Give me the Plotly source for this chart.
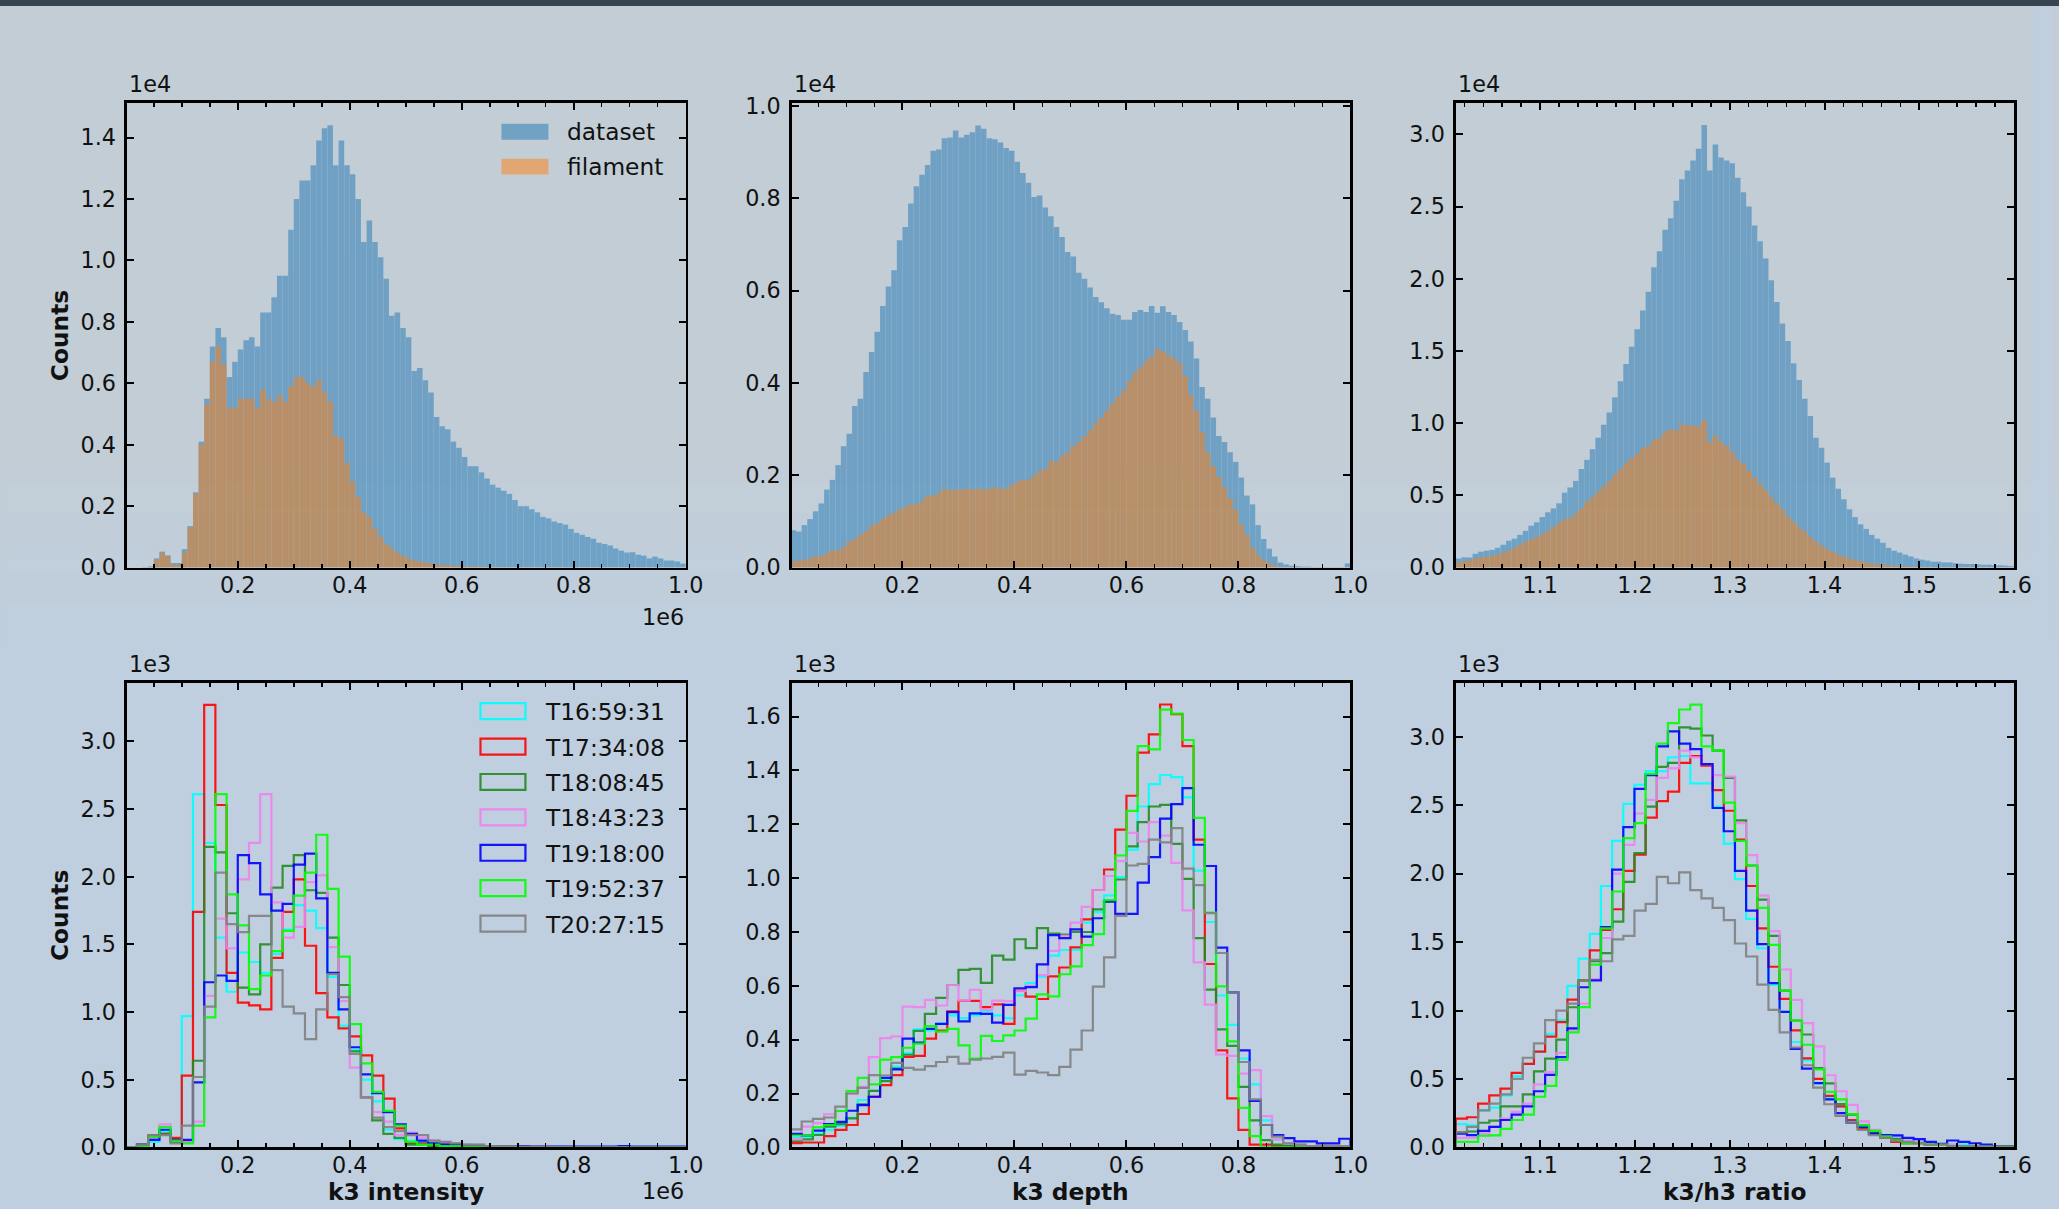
import numpy as np
import plotly.graph_objects as go

# page is 2059x1209; the figure sits inside the browser's 8px body margin (bottom margin removed)
PAGE_W, PAGE_H, OFF = 2059, 1209, 8
W, H = PAGE_W - 2 * OFF, PAGE_H - OFF

# ---------------- data (top row: 100-bin histograms, values in 1e4 counts) ----------------
int_dataset = [0, 0, 0, 0.002, 0.004, 0.03, 0.052, 0.04, 0.015, 0.015,
               0.06, 0.135, 0.245, 0.41, 0.55, 0.72, 0.78, 0.75, 0.62, 0.67,
               0.71, 0.74, 0.75, 0.72, 0.83, 0.83, 0.88, 0.95, 0.95, 1.10,
               1.20, 1.26, 1.26, 1.31, 1.39, 1.43, 1.44, 1.31, 1.39, 1.31,
               1.28, 1.20, 1.06, 1.13, 1.06, 1.01, 0.94, 0.82, 0.83, 0.78,
               0.75, 0.64, 0.65, 0.61, 0.57, 0.49, 0.46, 0.45, 0.41, 0.39,
               0.36, 0.33, 0.33, 0.31, 0.29, 0.27, 0.26, 0.25, 0.24, 0.22,
               0.20, 0.20, 0.19, 0.18, 0.165, 0.16, 0.15, 0.145, 0.14, 0.126,
               0.113, 0.107, 0.10, 0.094, 0.081, 0.077, 0.072, 0.062, 0.055, 0.049,
               0.05, 0.042, 0.039, 0.03, 0.036, 0.03, 0.023, 0.023, 0.02, 0.013]
int_filament = [0, 0, 0, 0, 0, 0.026, 0.049, 0.036, 0.01, 0.01,
                0.05, 0.13, 0.24, 0.40, 0.53, 0.67, 0.72, 0.66, 0.52, 0.52,
                0.55, 0.55, 0.55, 0.52, 0.58, 0.55, 0.54, 0.56, 0.54, 0.59,
                0.62, 0.62, 0.60, 0.59, 0.61, 0.57, 0.54, 0.43, 0.42, 0.34,
                0.28, 0.23, 0.18, 0.165, 0.126, 0.10, 0.077, 0.062, 0.049, 0.039,
                0.03, 0.023, 0.02, 0.017, 0.013, 0.01, 0.009, 0.008, 0.007, 0.006,
                0.005, 0.004, 0.004, 0.003, 0.003, 0.002, 0.002, 0.002, 0.001, 0.001,
                0.001, 0.001, 0.001, 0.001, 0.001, 0.001, 0.001, 0.001, 0.001, 0.001,
                0, 0, 0, 0, 0, 0, 0, 0, 0, 0,
                0, 0, 0, 0, 0, 0, 0, 0, 0, 0]
depth_dataset = [0.081, 0.078, 0.092, 0.105, 0.122, 0.139, 0.169, 0.19, 0.222, 0.263,
                 0.29, 0.35, 0.366, 0.424, 0.467, 0.511, 0.567, 0.609, 0.644, 0.709,
                 0.738, 0.789, 0.826, 0.851, 0.872, 0.903, 0.906, 0.93, 0.932, 0.947,
                 0.932, 0.938, 0.943, 0.958, 0.951, 0.93, 0.928, 0.921, 0.909, 0.903,
                 0.879, 0.855, 0.834, 0.803, 0.806, 0.78, 0.761, 0.738, 0.716, 0.684,
                 0.674, 0.639, 0.626, 0.607, 0.586, 0.575, 0.562, 0.55, 0.547, 0.537,
                 0.537, 0.554, 0.558, 0.554, 0.567, 0.552, 0.566, 0.554, 0.547, 0.532,
                 0.515, 0.49, 0.453, 0.391, 0.366, 0.325, 0.285, 0.272, 0.25, 0.229,
                 0.195, 0.156, 0.137, 0.092, 0.062, 0.041, 0.024, 0.011, 0.007, 0.004,
                 0.003, 0.002, 0.002, 0.001, 0.001, 0.001, 0.001, 0.001, 0.001, 0.009]
depth_filament = [0.013, 0.015, 0.017, 0.02, 0.024, 0.026, 0.031, 0.038, 0.037, 0.045,
                  0.056, 0.062, 0.071, 0.079, 0.09, 0.097, 0.105, 0.114, 0.118, 0.126,
                  0.131, 0.137, 0.137, 0.144, 0.156, 0.156, 0.161, 0.171, 0.168, 0.169,
                  0.169, 0.171, 0.169, 0.171, 0.169, 0.171, 0.174, 0.171, 0.171, 0.178,
                  0.186, 0.19, 0.19, 0.199, 0.209, 0.214, 0.231, 0.229, 0.242, 0.25,
                  0.263, 0.272, 0.285, 0.297, 0.313, 0.325, 0.34, 0.356, 0.37, 0.383,
                  0.404, 0.421, 0.434, 0.447, 0.457, 0.473, 0.468, 0.46, 0.453, 0.443,
                  0.415, 0.374, 0.34, 0.293, 0.25, 0.22, 0.197, 0.174, 0.15, 0.126,
                  0.094, 0.071, 0.045, 0.028, 0.015, 0.009, 0.005, 0.002, 0.001, 0.001,
                  0, 0, 0, 0, 0, 0, 0, 0, 0, 0]
ratio_dataset = [0.063, 0.071, 0.07, 0.096, 0.11, 0.117, 0.123, 0.137, 0.158, 0.186,
                 0.2, 0.227, 0.254, 0.29, 0.314, 0.35, 0.383, 0.41, 0.445, 0.519,
                 0.555, 0.60, 0.683, 0.746, 0.82, 0.90, 0.99, 1.074, 1.18, 1.29,
                 1.41, 1.53, 1.65, 1.78, 1.91, 2.08, 2.19, 2.34, 2.42, 2.54,
                 2.69, 2.75, 2.82, 2.90, 3.066, 2.75, 2.93, 2.84, 2.82, 2.80,
                 2.70, 2.60, 2.50, 2.37, 2.26, 2.14, 1.99, 1.84, 1.69, 1.57,
                 1.415, 1.30, 1.17, 1.05, 0.90, 0.83, 0.727, 0.623, 0.546, 0.473,
                 0.404, 0.35, 0.30, 0.268, 0.227, 0.20, 0.172, 0.137, 0.117, 0.104,
                 0.09, 0.077, 0.063, 0.055, 0.049, 0.041, 0.041, 0.036, 0.036, 0.03,
                 0.027, 0.025, 0.025, 0.022, 0.02, 0.02, 0.016, 0.016, 0.014, 0.01]
ratio_filament = [0.036, 0.044, 0.049, 0.063, 0.071, 0.077, 0.082, 0.09, 0.104, 0.117,
                  0.137, 0.158, 0.18, 0.194, 0.213, 0.232, 0.254, 0.281, 0.309, 0.336,
                  0.342, 0.377, 0.41, 0.454, 0.49, 0.527, 0.563, 0.60, 0.645, 0.683,
                  0.724, 0.76, 0.787, 0.828, 0.842, 0.883, 0.90, 0.945, 0.956, 0.95,
                  0.99, 0.984, 0.984, 0.978, 1.02, 0.87, 0.915, 0.87, 0.842, 0.80,
                  0.746, 0.72, 0.67, 0.623, 0.582, 0.536, 0.486, 0.445, 0.404, 0.355,
                  0.317, 0.281, 0.249, 0.213, 0.18, 0.153, 0.131, 0.109, 0.09, 0.077,
                  0.063, 0.055, 0.044, 0.036, 0.03, 0.025, 0.02, 0.017, 0.014, 0.012,
                  0.01, 0.008, 0.007, 0.006, 0.005, 0.004, 0.004, 0.003, 0.003, 0.002,
                  0.002, 0.002, 0.001, 0.001, 0.001, 0.001, 0.001, 0.001, 0.001, 0.001]

# ---------------- data (bottom row: 50-bin step histograms per time, values in 1e3 counts) ----------------
times = ["T16:59:31", "T17:34:08", "T18:08:45", "T18:43:23", "T19:18:00", "T19:52:37", "T20:27:15"]
time_colors = ["#00ffff", "#ff0000", "#228b22", "#ee82ee", "#0000ff", "#00ff00", "#808080"]

int_T1 = [0.0, 0.02, 0.04, 0.12, 0.04, 0.97, 2.61, 2.25, 1.55, 1.15, 1.44, 1.37, 1.29, 1.43, 1.61, 1.79, 1.75, 1.62, 1.26, 0.90, 0.72, 0.50, 0.34, 0.13, 0.06, 0.05, 0.04, 0.03, 0.02, 0.02, 0.02, 0.01, 0.01, 0.01, 0.01, 0.005, 0.005, 0.005, 0.005, 0.005, 0.003, 0.003, 0.003, 0.003, 0.003, 0.002, 0.002, 0.002, 0.002, 0.002]
int_T2 = [0.0, 0.01, 0.07, 0.10, 0.07, 0.53, 1.74, 3.27, 2.53, 1.29, 1.07, 1.05, 1.02, 1.40, 1.74, 1.98, 1.49, 1.14, 0.96, 0.88, 0.82, 0.68, 0.53, 0.36, 0.14, 0.03, 0.03, 0.02, 0.02, 0.01, 0.01, 0.01, 0.005, 0.005, 0.005, 0.003, 0.003, 0.003, 0.002, 0.002, 0.002, 0.002, 0.001, 0.001, 0.001, 0.001, 0.001, 0.001, 0.001, 0.001]
int_T3 = [0.0, 0.02, 0.09, 0.10, 0.04, 0.04, 0.64, 2.22, 2.18, 1.73, 1.18, 1.13, 1.50, 1.92, 2.08, 2.16, 1.90, 1.88, 1.55, 1.20, 0.71, 0.37, 0.20, 0.10, 0.07, 0.02, 0.02, 0.01, 0.01, 0.01, 0.005, 0.005, 0.005, 0.003, 0.003, 0.002, 0.002, 0.002, 0.001, 0.001, 0.001, 0.001, 0.001, 0.001, 0.001, 0.001, 0.001, 0.001, 0.001, 0.001]
int_T4 = [0.0, 0.02, 0.07, 0.17, 0.05, 0.04, 0.19, 1.12, 1.69, 1.47, 1.98, 2.25, 2.61, 1.81, 1.55, 1.63, 1.96, 2.01, 1.48, 1.08, 0.59, 0.37, 0.26, 0.19, 0.09, 0.11, 0.07, 0.05, 0.04, 0.03, 0.02, 0.02, 0.01, 0.01, 0.01, 0.005, 0.005, 0.005, 0.003, 0.003, 0.003, 0.002, 0.002, 0.002, 0.002, 0.001, 0.001, 0.001, 0.001, 0.001]
int_T5 = [0.0, 0.02, 0.055, 0.13, 0.055, 0.055, 0.48, 1.22, 1.27, 1.23, 2.16, 2.10, 1.87, 1.75, 1.80, 2.09, 2.17, 1.84, 1.29, 1.02, 0.74, 0.54, 0.40, 0.26, 0.17, 0.10, 0.05, 0.03, 0.02, 0.02, 0.01, 0.01, 0.01, 0.01, 0.01, 0.01, 0.005, 0.005, 0.005, 0.005, 0.005, 0.005, 0.005, 0.005, 0.01, 0.005, 0.005, 0.005, 0.005, 0.005]
int_T6 = [0.0, 0.01, 0.08, 0.15, 0.05, 0.03, 0.16, 0.96, 2.61, 1.87, 1.64, 1.17, 1.27, 1.45, 1.60, 1.86, 2.03, 2.31, 1.91, 1.41, 0.91, 0.62, 0.41, 0.27, 0.16, 0.04, 0.02, 0.02, 0.01, 0.01, 0.005, 0.005, 0.005, 0.003, 0.003, 0.002, 0.002, 0.002, 0.001, 0.001, 0.001, 0.001, 0.001, 0.001, 0.001, 0.001, 0.001, 0.001, 0.001, 0.001]
int_T7 = [0.0, 0.02, 0.09, 0.09, 0.03, 0.16, 0.52, 1.04, 2.03, 1.65, 1.59, 1.71, 1.71, 1.31, 1.04, 0.99, 0.80, 1.02, 1.28, 1.11, 0.69, 0.37, 0.22, 0.15, 0.12, 0.09, 0.09, 0.05, 0.04, 0.03, 0.02, 0.02, 0.01, 0.01, 0.01, 0.005, 0.005, 0.005, 0.003, 0.003, 0.003, 0.002, 0.002, 0.002, 0.001, 0.001, 0.001, 0.001, 0.001, 0.001]

depth_T1 = [0.034, 0.04, 0.05, 0.065, 0.08, 0.11, 0.176, 0.21, 0.255, 0.30, 0.35, 0.438, 0.434, 0.46, 0.49, 0.48, 0.49, 0.505, 0.49, 0.48, 0.565, 0.61, 0.634, 0.712, 0.733, 0.733, 0.835, 0.874, 0.936, 1.004, 1.106, 1.266, 1.349, 1.383, 1.375, 1.30, 1.028, 0.837, 0.564, 0.455, 0.33, 0.234, 0.10, 0.03, 0.01, 0.01, 0.005, 0.005, 0.005, 0.005]
depth_T2 = [0.016, 0.018, 0.018, 0.042, 0.065, 0.083, 0.124, 0.188, 0.231, 0.268, 0.336, 0.34, 0.404, 0.434, 0.505, 0.544, 0.544, 0.521, 0.531, 0.459, 0.582, 0.56, 0.551, 0.635, 0.668, 0.743, 0.847, 0.956, 1.032, 1.18, 1.306, 1.466, 1.534, 1.645, 1.609, 1.49, 1.143, 0.681, 0.36, 0.182, 0.065, 0.01, 0.01, 0.005, 0.005, 0.0, 0.0, 0.0, 0.0, 0.0]
depth_T3 = [0.024, 0.03, 0.046, 0.077, 0.086, 0.108, 0.16, 0.21, 0.246, 0.293, 0.344, 0.433, 0.496, 0.555, 0.603, 0.659, 0.663, 0.611, 0.712, 0.697, 0.773, 0.74, 0.814, 0.794, 0.79, 0.80, 0.80, 0.884, 0.913, 0.995, 1.118, 1.208, 1.266, 1.272, 1.127, 0.997, 0.777, 0.586, 0.438, 0.377, 0.225, 0.10, 0.027, 0.01, 0.005, 0.005, 0.0, 0.0, 0.0, 0.0]
depth_T4 = [0.03, 0.077, 0.09, 0.123, 0.135, 0.20, 0.225, 0.335, 0.406, 0.412, 0.523, 0.521, 0.548, 0.527, 0.603, 0.545, 0.585, 0.511, 0.545, 0.543, 0.58, 0.60, 0.64, 0.73, 0.786, 0.835, 0.893, 0.956, 1.008, 1.063, 1.168, 1.136, 1.208, 1.158, 1.057, 0.88, 0.687, 0.53, 0.345, 0.34, 0.274, 0.287, 0.116, 0.03, 0.015, 0.01, 0.005, 0.005, 0.005, 0.005]
depth_T5 = [0.05, 0.044, 0.062, 0.086, 0.095, 0.136, 0.157, 0.188, 0.258, 0.29, 0.404, 0.389, 0.44, 0.459, 0.502, 0.468, 0.498, 0.496, 0.463, 0.529, 0.591, 0.595, 0.68, 0.788, 0.777, 0.81, 0.783, 0.851, 0.914, 0.867, 0.867, 0.983, 1.078, 1.221, 1.275, 1.334, 1.124, 1.045, 0.742, 0.576, 0.36, 0.173, 0.083, 0.046, 0.034, 0.022, 0.022, 0.015, 0.015, 0.032]
depth_T6 = [0.044, 0.044, 0.074, 0.083, 0.135, 0.209, 0.258, 0.234, 0.326, 0.335, 0.37, 0.385, 0.45, 0.43, 0.44, 0.379, 0.33, 0.414, 0.395, 0.416, 0.434, 0.478, 0.568, 0.561, 0.643, 0.672, 0.751, 0.792, 0.918, 1.084, 1.25, 1.49, 1.478, 1.626, 1.611, 1.513, 1.224, 0.872, 0.598, 0.394, 0.147, 0.042, 0.0, 0.0, 0.0, 0.0, 0.0, 0.0, 0.0, 0.0]
depth_T7 = [0.067, 0.096, 0.106, 0.111, 0.151, 0.20, 0.221, 0.268, 0.267, 0.314, 0.295, 0.289, 0.302, 0.317, 0.336, 0.311, 0.326, 0.33, 0.336, 0.352, 0.27, 0.284, 0.278, 0.268, 0.299, 0.363, 0.434, 0.597, 0.706, 0.86, 1.047, 1.053, 1.143, 1.133, 1.186, 1.035, 0.974, 0.87, 0.722, 0.576, 0.317, 0.178, 0.083, 0.04, 0.015, 0.01, 0.005, 0.005, 0.005, 0.005]

ratio_T1 = [0.17, 0.16, 0.27, 0.29, 0.38, 0.52, 0.61, 0.70, 0.83, 0.93, 1.18, 1.38, 1.56, 1.91, 2.24, 2.51, 2.65, 2.75, 2.75, 2.85, 2.86, 2.66, 2.66, 2.49, 2.22, 1.96, 1.67, 1.455, 1.19, 0.99, 0.77, 0.636, 0.47, 0.36, 0.30, 0.19, 0.14, 0.10, 0.08, 0.07, 0.05, 0.04, 0.03, 0.02, 0.02, 0.02, 0.01, 0.01, 0.01, 0.01]
ratio_T2 = [0.21, 0.22, 0.32, 0.38, 0.43, 0.545, 0.61, 0.70, 0.81, 0.915, 1.08, 1.22, 1.44, 1.59, 1.74, 2.02, 2.14, 2.41, 2.53, 2.60, 2.81, 2.86, 2.79, 2.61, 2.46, 2.25, 1.91, 1.60, 1.32, 1.085, 0.855, 0.65, 0.50, 0.377, 0.30, 0.20, 0.135, 0.10, 0.07, 0.04, 0.03, 0.03, 0.02, 0.02, 0.01, 0.01, 0.01, 0.005, 0.005, 0.005]
ratio_T3 = [0.11, 0.116, 0.18, 0.195, 0.30, 0.30, 0.387, 0.556, 0.649, 0.787, 1.024, 1.22, 1.36, 1.42, 1.65, 1.94, 2.15, 2.49, 2.78, 2.81, 3.07, 3.06, 3.01, 2.90, 2.70, 2.39, 2.06, 1.81, 1.545, 1.145, 0.927, 0.825, 0.58, 0.467, 0.317, 0.24, 0.16, 0.11, 0.09, 0.06, 0.03, 0.03, 0.02, 0.02, 0.01, 0.01, 0.01, 0.005, 0.005, 0.005]
ratio_T4 = [0.07, 0.07, 0.10, 0.15, 0.21, 0.26, 0.32, 0.46, 0.55, 0.69, 0.86, 1.05, 1.23, 1.53, 2.00, 2.21, 2.44, 2.54, 2.70, 2.77, 2.90, 2.85, 2.80, 2.72, 2.71, 2.37, 2.135, 1.84, 1.58, 1.30, 1.078, 0.908, 0.738, 0.527, 0.41, 0.31, 0.19, 0.128, 0.09, 0.08, 0.05, 0.04, 0.03, 0.02, 0.02, 0.01, 0.01, 0.01, 0.005, 0.005]
ratio_T5 = [0.10, 0.09, 0.12, 0.15, 0.20, 0.24, 0.30, 0.41, 0.53, 0.66, 0.87, 1.17, 1.22, 1.61, 2.03, 2.34, 2.62, 2.72, 2.93, 3.04, 2.95, 2.91, 2.80, 2.48, 2.31, 2.02, 1.73, 1.485, 1.20, 0.99, 0.72, 0.576, 0.47, 0.35, 0.25, 0.18, 0.15, 0.10, 0.09, 0.087, 0.07, 0.06, 0.04, 0.025, 0.05, 0.04, 0.03, 0.02, 0.01, 0.01]
ratio_T6 = [0.04, 0.04, 0.085, 0.087, 0.135, 0.20, 0.24, 0.37, 0.45, 0.64, 0.84, 1.025, 1.335, 1.60, 1.87, 2.26, 2.37, 2.73, 2.95, 3.10, 3.20, 3.236, 2.93, 2.90, 2.52, 2.24, 2.06, 1.75, 1.48, 1.145, 0.927, 0.75, 0.57, 0.406, 0.35, 0.243, 0.16, 0.12, 0.08, 0.05, 0.03, 0.03, 0.02, 0.02, 0.01, 0.01, 0.005, 0.005, 0.005, 0.005]
ratio_T7 = [0.11, 0.15, 0.27, 0.32, 0.387, 0.50, 0.655, 0.76, 0.93, 1.00, 1.05, 1.22, 1.37, 1.36, 1.52, 1.545, 1.73, 1.78, 1.977, 1.93, 2.01, 1.88, 1.82, 1.75, 1.66, 1.49, 1.395, 1.19, 1.005, 0.84, 0.73, 0.60, 0.436, 0.315, 0.23, 0.18, 0.127, 0.09, 0.07, 0.05, 0.04, 0.03, 0.02, 0.02, 0.01, 0.01, 0.01, 0.005, 0.005, 0.005]

# x extents of the histogram bins
int_lim = (0.0, 1.0)
depth_lim = (0.0, 1.0)
ratio_lim = (1.011, 1.600)

# ---------------- layout helpers ----------------
# positions below are given in screenshot pixels; they are converted to page pixels
# with the capture's measured scale/offset and then to paper fractions
FONT = "DejaVu Sans"
SX, BX, SY, BY = 0.9924, -2.0, 0.9836, 5.6

def gx(o):
    return (o - BX) / SX

def gy(o):
    return (o - BY) / SY

def px(o):
    return (gx(o) - OFF) / W

def py(o):
    return 1 - (gy(o) - OFF) / H

xdom = [(px(125), px(684.5)), (px(790.5), px(1350)), (px(1455.5), px(2014.5))]
ydom_top = (py(564.6), py(98.5))
ydom_bot = (py(1146), py(680))

fig = go.Figure()

def bars(name, vals, lim, color, ax):
    n = len(vals)
    edges = np.linspace(lim[0], lim[1], n + 1)
    centers = 0.5 * (edges[:-1] + edges[1:])
    fig.add_trace(go.Bar(x=centers, y=vals, width=edges[1] - edges[0], name=name,
                         marker=dict(color=color, line=dict(width=0)), opacity=0.5,
                         xaxis="x" + ax, yaxis="y" + ax, showlegend=False))

def steps(name, vals, lim, color, ax):
    n = len(vals)
    edges = np.linspace(lim[0], lim[1], n + 1)
    x = np.concatenate([[edges[0]], edges])
    y = np.concatenate([[0.0], np.asarray(vals, dtype=float), [0.0]])
    fig.add_trace(go.Scatter(x=x, y=y, mode="lines", line=dict(color=color, width=2.2, shape="hv"),
                             opacity=0.9, name=name, xaxis="x" + ax, yaxis="y" + ax, showlegend=False))

C0, C1 = "#1f77b4", "#ff7f0e"
bars("dataset", int_dataset, int_lim, C0, "")
bars("filament", int_filament, int_lim, C1, "")
bars("dataset", depth_dataset, depth_lim, C0, "2")
bars("filament", depth_filament, depth_lim, C1, "2")
bars("dataset", ratio_dataset, ratio_lim, C0, "3")
bars("filament", ratio_filament, ratio_lim, C1, "3")

int_series = [int_T1, int_T2, int_T3, int_T4, int_T5, int_T6, int_T7]
depth_series = [depth_T1, depth_T2, depth_T3, depth_T4, depth_T5, depth_T6, depth_T7]
ratio_series = [ratio_T1, ratio_T2, ratio_T3, ratio_T4, ratio_T5, ratio_T6, ratio_T7]
for t, c, a, b, r in zip(times, time_colors, int_series, depth_series, ratio_series):
    steps(t, a, int_lim, c, "4")
    steps(t, b, depth_lim, c, "5")
    steps(t, r, ratio_lim, c, "6")

FS_TICK, FS_TEXT = 22.3, 23.3
tickfont = dict(family=FONT, size=FS_TICK, color="#111111")

def xaxis(dom, anchor, rng, majors, minor_step):
    majors = np.asarray(majors)
    start = np.ceil(rng[0] / minor_step - 1e-9) * minor_step
    mins = np.arange(start, rng[1] + 1e-9, minor_step)
    mins = [m for m in mins if np.min(np.abs(majors - m)) > 1e-6]
    return dict(domain=dom, anchor=anchor, range=list(rng), tickmode="array",
                tickvals=list(majors), ticktext=["%.1f" % v for v in majors],
                ticks="inside", ticklen=7, tickwidth=2, tickcolor="black",
                minor=dict(tickmode="array", tickvals=mins, ticks="inside", ticklen=4,
                           tickwidth=1.5, tickcolor="black", showgrid=False),
                showline=True, linecolor="black", linewidth=2.5, mirror="allticks",
                showgrid=False, zeroline=False, tickfont=tickfont, ticklabelstandoff=-4)

def yaxis(dom, anchor, rng, majors):
    return dict(domain=dom, anchor=anchor, range=list(rng), tickmode="array",
                tickvals=list(majors), ticktext=["%.1f" % v for v in majors],
                ticks="inside", ticklen=7, tickwidth=2, tickcolor="black",
                showline=True, linecolor="black", linewidth=2.5, mirror="allticks",
                showgrid=False, zeroline=False, tickfont=tickfont, ticklabelstandoff=4)

unit_ticks = [0.2, 0.4, 0.6, 0.8, 1.0]
ratio_ticks = [1.1, 1.2, 1.3, 1.4, 1.5, 1.6]

fig.update_layout(
    xaxis=xaxis(xdom[0], "y", (0.002, 1.0), unit_ticks, 0.05),
    yaxis=yaxis(ydom_top, "x", (0, 1.513), np.arange(0, 1.41, 0.2)),
    xaxis2=xaxis(xdom[1], "y2", (0.002, 1.0), unit_ticks, 0.05),
    yaxis2=yaxis(ydom_top, "x2", (0, 1.007), np.arange(0, 1.01, 0.2)),
    xaxis3=xaxis(xdom[2], "y3", ratio_lim, ratio_ticks, 0.02),
    yaxis3=yaxis(ydom_top, "x3", (0, 3.219), np.arange(0, 3.01, 0.5)),
    xaxis4=xaxis(xdom[0], "y4", (0.002, 1.0), unit_ticks, 0.05),
    yaxis4=yaxis(ydom_bot, "x4", (0, 3.434), np.arange(0, 3.01, 0.5)),
    xaxis5=xaxis(xdom[1], "y5", (0.002, 1.0), unit_ticks, 0.05),
    yaxis5=yaxis(ydom_bot, "x5", (0, 1.726), np.arange(0, 1.61, 0.2)),
    xaxis6=xaxis(xdom[2], "y6", ratio_lim, ratio_ticks, 0.02),
    yaxis6=yaxis(ydom_bot, "x6", (0, 3.396), np.arange(0, 3.01, 0.5)),
)

# ---------------- background (grey-blue top fading to light steel blue) ----------------
c_top = np.array([195, 205, 213])
c_bot = np.array([191, 207, 223])
g0, g1, nb = 430, 650, 22
shapes = [dict(type="rect", xref="paper", yref="paper", x0=0, x1=1, y0=py(g0), y1=1.02,
               fillcolor="rgb(%d,%d,%d)" % tuple(c_top), line=dict(width=0), layer="below")]
for i in range(nb):
    f = (i + 0.5) / nb
    c = (c_top * (1 - f) + c_bot * f).round().astype(int)
    ya = g0 + (g1 - g0) * i / nb
    yb = g0 + (g1 - g0) * (i + 1) / nb + 1
    shapes.append(dict(type="rect", xref="paper", yref="paper", x0=0, x1=1, y0=py(yb), y1=py(ya),
                       fillcolor="rgb(%d,%d,%d)" % tuple(c), line=dict(width=0), layer="below"))

annotations = []

def text(x, y, s, size=FS_TICK, xanchor="left", yanchor="middle", angle=0):
    annotations.append(dict(x=px(x), y=py(y), xref="paper", yref="paper", text=s, showarrow=False,
                            xanchor=xanchor, yanchor=yanchor, textangle=angle,
                            font=dict(family=FONT, size=size, color="#111111")))

# top legend (dataset / filament)
shapes.append(dict(type="rect", xref="paper", yref="paper", x0=px(500), x1=px(547), y0=py(135.5), y1=py(119.5),
                   fillcolor="rgba(31,119,180,0.5)", line=dict(width=0)))
shapes.append(dict(type="rect", xref="paper", yref="paper", x0=px(500), x1=px(547), y0=py(170.5), y1=py(154.5),
                   fillcolor="rgba(255,127,14,0.5)", line=dict(width=0)))
text(564, 127, "dataset", FS_TEXT)
text(564, 162.5, "filament", FS_TEXT)

# bottom legend (times)
for i, (t, c) in enumerate(zip(times, time_colors)):
    yc = 708.6 + 35.5 * i
    shapes.append(dict(type="rect", xref="paper", yref="paper", x0=px(479), x1=px(524), y0=py(yc + 8), y1=py(yc - 8),
                       fillcolor="rgba(0,0,0,0)", line=dict(color=c, width=2.2), opacity=0.9))
    text(542, yc + 0.5, t, FS_TEXT)

# offset texts and axis titles
for xl in (125, 790.5, 1455.5):
    text(xl, 80, "1e4")
    text(xl, 661, "1e3")
text(684.5, 614, "1e6", xanchor="right")
text(684.5, 1190, "1e6", xanchor="right")
text(57, 331.5, "<b>Counts</b>", FS_TEXT, xanchor="center", angle=-90)
text(57, 913, "<b>Counts</b>", FS_TEXT, xanchor="center", angle=-90)
text(404.5, 1190, "<b>k3 intensity</b>", FS_TEXT, xanchor="center")
text(1070, 1190, "<b>k3 depth</b>", FS_TEXT, xanchor="center")
text(1735, 1190, "<b>k3/h3 ratio</b>", FS_TEXT, xanchor="center")

fig.update_layout(
    width=W, height=H, autosize=False, margin=dict(l=0, r=0, t=0, b=0),
    paper_bgcolor="rgb(191,207,223)", plot_bgcolor="rgba(0,0,0,0)",
    barmode="overlay", showlegend=False,
    shapes=shapes, annotations=annotations,
    font=dict(family=FONT, size=FS_TICK, color="#111111"),
)

# page background behind the body margin, continuing the same gradient
page_bg = ("linear-gradient(to bottom, #36454f 0px, #36454f 6px, rgb(195,205,213) 6px, "
           "rgb(195,205,213) %dpx, rgb(191,207,223) %dpx, rgb(191,207,223) 100%%)" % (gy(g0), gy(g1)))
fig.write_html("out.html", include_plotlyjs=True,
               config={"responsive": False, "displayModeBar": False, "staticPlot": True},
               post_script="document.body.style.marginBottom='0';"
                           "document.documentElement.style.background='%s';"
                           "document.documentElement.style.minHeight='100%%';" % page_bg)
